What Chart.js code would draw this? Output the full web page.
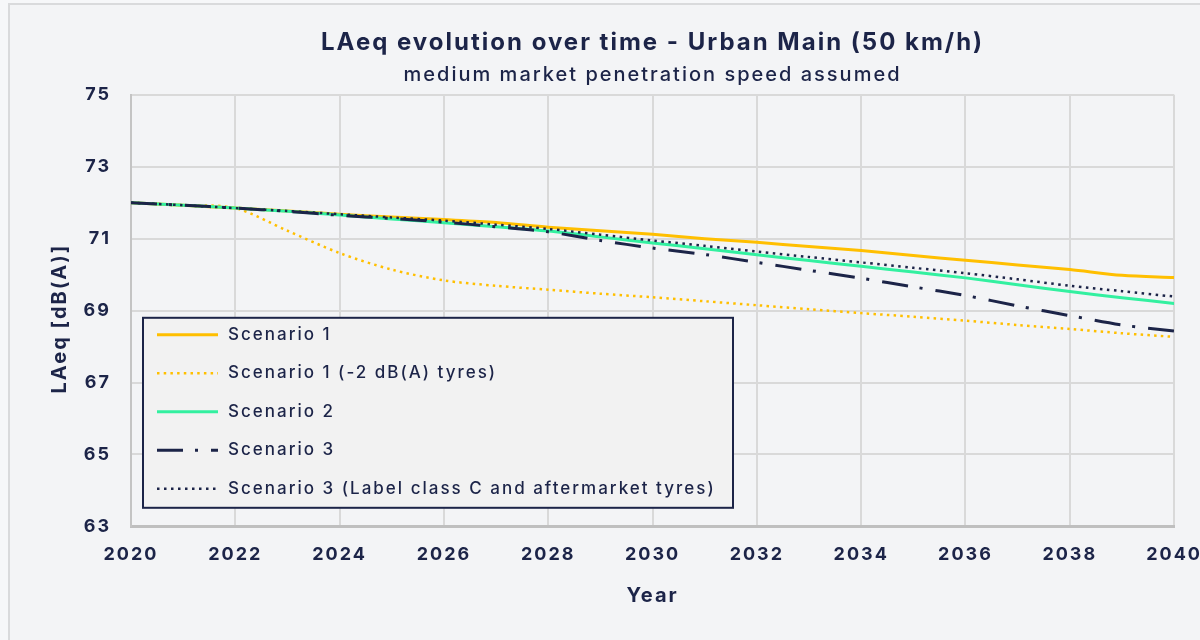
<!DOCTYPE html>
<html>
<head>
<meta charset="utf-8">
<script src="https://cdn.jsdelivr.net/npm/chart.js@4.4.0/dist/chart.umd.min.js"></script>
<style>
html, body { margin: 0; padding: 0; width: 1200px; height: 640px; overflow: hidden; background: #f6f7f9; }
#card { position: absolute; left: 8px; top: 3px; width: 1300px; height: 700px; background: #f3f4f6; border-left: 2px solid #d9dadc; border-top: 2px solid #d9dadc; }
#wrap { position: absolute; left: 0; top: 0; width: 1219px; height: 640px; }
</style>
</head>
<body>
<div id="card"></div>
<div id="wrap"><canvas id="myChart"></canvas></div>
<script>
var years = [2020, 2021, 2022, 2023, 2024, 2025, 2026, 2027, 2028, 2029, 2030,
             2031, 2032, 2033, 2034, 2035, 2036, 2037, 2038, 2039, 2040];

var scenario1 = [72.0, 71.93, 71.85, 71.77, 71.68, 71.6, 71.53, 71.45, 71.32, 71.22, 71.12,
                 71.0, 70.9, 70.78, 70.67, 70.53, 70.4, 70.27, 70.14, 69.98, 69.92];
var scenario1Tyres = [72.0, 71.93, 71.85, 71.22, 70.6, 70.14, 69.84, 69.69, 69.58, 69.47, 69.37,
                      69.26, 69.15, 69.04, 68.93, 68.83, 68.72, 68.6, 68.49, 68.37, 68.27];
var scenario2 = [72.0, 71.93, 71.85, 71.76, 71.66, 71.55, 71.44, 71.33, 71.21, 71.05, 70.88,
                 70.72, 70.55, 70.39, 70.23, 70.07, 69.91, 69.72, 69.53, 69.36, 69.2];
var scenario3 = [72.0, 71.93, 71.85, 71.76, 71.65, 71.56, 71.46, 71.33, 71.19, 70.95, 70.74,
                 70.56, 70.34, 70.12, 69.9, 69.66, 69.42, 69.13, 68.86, 68.6, 68.43];
var scenario3C = [72.0, 71.93, 71.85, 71.77, 71.68, 71.59, 71.5, 71.39, 71.27, 71.11, 70.95,
                  70.8, 70.64, 70.49, 70.34, 70.19, 70.04, 69.87, 69.69, 69.54, 69.39];

var seriesNames = ['Scenario 1', 'Scenario 1 (-2 dB(A) tyres)', 'Scenario 2', 'Scenario 3',
                   'Scenario 3 (Label class C and aftermarket tyres)'];
var yTicks = [63, 65, 67, 69, 71, 73, 75];
var yTitle = 'LAeq [dB(A)]';

var navy = '#1c2448';
var gold = '#ffbf00';
var mint = '#33f0a0';
var fontFam = 'Inter, "Noto Sans", sans-serif';

function pts(vals) {
    return years.map(function (yr, i) { return { x: yr, y: vals[i] }; });
}

// the original font is wider than Inter, so open up the tracking a bit
function spacing(chart) { chart.ctx.letterSpacing = '2px'; }
var tracking = {
    id: 'tracking',
    beforeUpdate: spacing,
    beforeLayout: spacing,
    beforeDraw: spacing
};

// legend drawn inside the plot, like the original, plus the y axis title
var boxLegend = {
    id: 'boxLegend',
    afterDraw: function (chart) {
        var ctx = chart.ctx;
        var area = chart.chartArea;
        var x0 = area.left + 12;
        var y0 = area.top + 223;
        var w = 590;
        var h = 190;
        ctx.save();
        ctx.fillStyle = '#f2f2f2';
        ctx.fillRect(x0, y0, w, h);
        ctx.strokeStyle = navy;
        ctx.lineWidth = 2;
        ctx.strokeRect(x0, y0, w, h);
        ctx.font = '500 17px ' + fontFam;
        chart.data.datasets.forEach(function (ds, i) {
            var yy = y0 + 17 + i * 38.5;
            ctx.beginPath();
            ctx.setLineDash(ds.borderDash || []);
            ctx.lineWidth = ds.borderWidth;
            ctx.strokeStyle = ds.borderColor;
            ctx.moveTo(x0 + 14, yy);
            ctx.lineTo(x0 + 75, yy);
            ctx.stroke();
            ctx.setLineDash([]);
            ctx.fillStyle = navy;
            ctx.textBaseline = 'middle';
            ctx.fillText(ds.label, x0 + 85, yy);
        });
        ctx.restore();

        ctx.save();
        ctx.translate(area.left - 71, (area.top + area.bottom) / 2 + 8);
        ctx.rotate(-Math.PI / 2);
        ctx.font = 'bold 20px ' + fontFam;
        ctx.fillStyle = navy;
        ctx.textAlign = 'center';
        ctx.textBaseline = 'middle';
        ctx.fillText(yTitle, 0, 0);
        ctx.restore();
    }
};

var ctx = document.getElementById('myChart');
var myChart = new Chart(ctx, {
    type: 'line',
    data: {
        datasets: [{
            label: seriesNames[0],
            data: pts(scenario1),
            borderColor: gold,
            borderWidth: 3,
            order: 4
        }, {
            label: seriesNames[1],
            data: pts(scenario1Tyres),
            borderColor: gold,
            borderWidth: 2.5,
            borderDash: [2.5, 4.2],
            order: 3
        }, {
            label: seriesNames[2],
            data: pts(scenario2),
            borderColor: mint,
            borderWidth: 3,
            order: 2
        }, {
            label: seriesNames[3],
            data: pts(scenario3),
            borderColor: navy,
            borderWidth: 3,
            borderDash: [26, 12, 3, 13],
            order: 1
        }, {
            label: seriesNames[4],
            data: pts(scenario3C),
            borderColor: navy,
            borderWidth: 2.5,
            borderDash: [2.5, 4.5],
            order: 0
        }]
    },
    options: {
        responsive: true,
        maintainAspectRatio: false,
        animation: false,
        layout: { padding: { left: 40, top: 12, right: 0, bottom: 22 } },
        elements: {
            point: { radius: 0 },
            line: { tension: 0.3, fill: false }
        },
        plugins: {
            legend: { display: false },
            tooltip: { enabled: false },
            title: {
                display: true,
                fullSize: false,
                text: 'LAeq evolution over time - Urban Main (50 km/h)',
                color: navy,
                font: { family: fontFam, size: 24, weight: 'bold' },
                padding: { top: 16, bottom: 4 }
            },
            subtitle: {
                display: true,
                fullSize: false,
                text: 'medium market penetration speed assumed',
                color: navy,
                font: { family: fontFam, size: 20, weight: '500' },
                padding: { top: 2, bottom: 8 }
            }
        },
        scales: {
            x: {
                type: 'linear',
                min: years[0],
                max: years[years.length - 1],
                grid: { color: '#d9d9d9', lineWidth: 2, drawTicks: false },
                border: { color: '#bfbfbf', width: 3 },
                ticks: {
                    stepSize: 2,
                    padding: 17,
                    color: navy,
                    font: { family: fontFam, size: 18, weight: 'bold' },
                    callback: function (v) { return String(v); }
                },
                title: {
                    display: true,
                    text: 'Year',
                    color: navy,
                    font: { family: fontFam, size: 20, weight: 'bold' },
                    padding: { top: 2, bottom: 10 }
                }
            },
            y: {
                min: yTicks[0],
                max: yTicks[yTicks.length - 1],
                afterFit: function (scale) { scale.width = 91; },
                grid: { color: '#d9d9d9', lineWidth: 2, drawTicks: false },
                border: { color: '#c4c4c4', width: 2 },
                ticks: {
                    stepSize: 2,
                    padding: 20,
                    color: navy,
                    font: { family: fontFam, size: 18, weight: 'bold' }
                }
            }
        }
    },
    plugins: [tracking, boxLegend]
});
</script>
</body>
</html>
